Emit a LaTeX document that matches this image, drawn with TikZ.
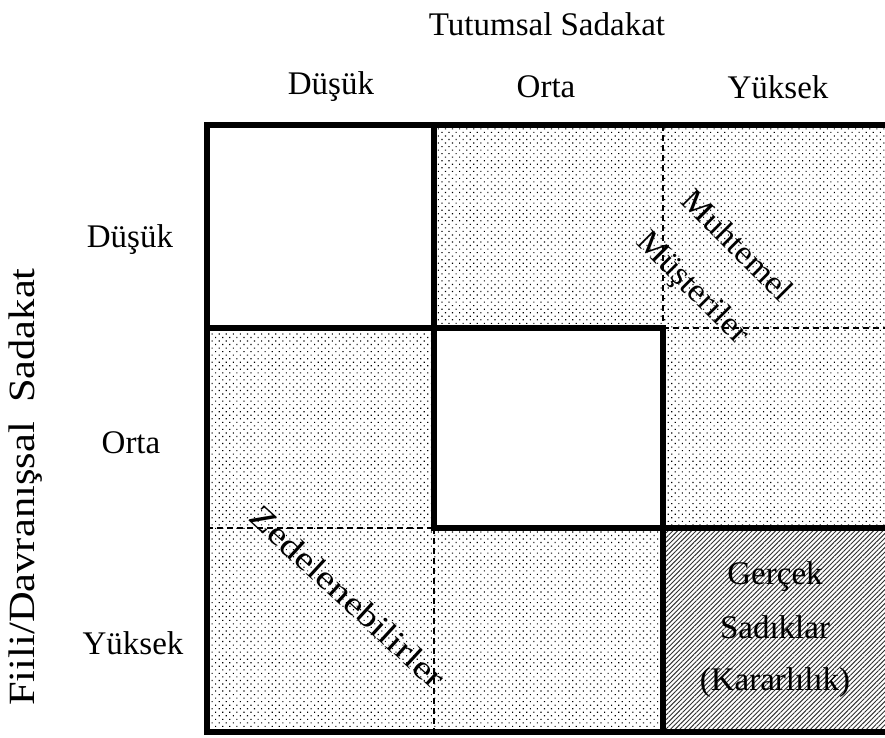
\documentclass[tikz,border=0pt]{standalone}
\usepackage{fontspec}
\setmainfont{Liberation Serif}
\usetikzlibrary{patterns.meta}

% grid lines (columns and rows of the loyalty matrix)
\def\XA{207}\def\XB{434}\def\XC{663}\def\XD{892}
\def\YA{125}\def\YB{328}\def\YC{528}\def\YD{732}

\tikzset{
  lbl/.style={inner sep=0pt, font=\fontsize{33}{40}\selectfont},
  dotfill/.style={pattern={Dots[radius=0.8pt, distance=5pt, angle=45]}, pattern color=black},
  hatchfill/.style={pattern={Lines[angle=45, distance=3.3pt, line width=0.9pt]}, pattern color=black!80},
  heavy/.style={line width=6pt, line cap=rect},
  split/.style={line width=1.3pt, dash pattern=on 6pt off 4pt},
}

\begin{document}
\begin{tikzpicture}[x=1pt, y=-1pt]
  \clip (0,0) rectangle (885,737);
  \fill[white] (0,0) rectangle (885,737);

  % shaded regions
  \fill[dotfill] (\XB,\YA) -- (\XD,\YA) -- (\XD,\YC) -- (\XC,\YC) -- (\XC,\YB) -- (\XB,\YB) -- cycle;
  \fill[dotfill] (\XA,\YB) -- (\XB,\YB) -- (\XB,\YC) -- (\XC,\YC) -- (\XC,\YD) -- (\XA,\YD) -- cycle;
  \fill[hatchfill] (\XC,\YC) rectangle (\XD,\YD);

  % dashed internal borders
  \draw[split] (\XC,\YA) -- (\XC,\YB);
  \draw[split] (\XC,\YB) -- (\XD,\YB);
  \draw[split] (\XA,\YC) -- (\XB,\YC);
  \draw[split] (\XB,\YC) -- (\XB,\YD);

  % heavy borders
  \draw[heavy] (\XA,\YA) rectangle (\XD,\YD);
  \draw[heavy] (\XB,\YA) -- (\XB,\YC);
  \draw[heavy] (\XA,\YB) -- (\XC,\YB);
  \draw[heavy] (\XC,\YB) -- (\XC,\YD);
  \draw[heavy] (\XB,\YC) -- (\XD,\YC);

  % axis titles
  \node[lbl] (ttitle) at (547,24) {Tutumsal Sadakat};
  \node[lbl, font=\fontsize{37}{44}\selectfont, rotate=90, anchor=east] (ftitle) at (26,268)
    {\scalebox{1.15}[1]{Fiili/Davranışsal\hspace{0.45em}Sadakat}};

  % column headings
  \node[lbl] (cLow) at (331,87) {Düşük};
  \node[lbl] (cMid) at (546,87) {Orta};
  \node[lbl] (cHigh) at (778,87) {Yüksek};

  % row headings
  \node[lbl] (rLow) at (130,240) {Düşük};
  \node[lbl] (rMid) at (131,443) {Orta};
  \node[lbl] (rHigh) at (133,643) {Yüksek};

  % segment names
  \node[lbl, rotate=-45] (muh) at (738,245) {\scalebox{1.05}[1]{Muhtemel}};
  \node[lbl, rotate=-45] (mus) at (692,289) {\scalebox{1.05}[1]{Müşteriler}};
  \node[lbl, rotate=-42.5] (zed) at (348,597) {\scalebox{1.2}[1]{Zedelenebilirler}};
  \node[lbl] (ger) at (775,577) {Gerçek};
  \node[lbl] (sad) at (775,627) {Sadıklar};
  \node[lbl] (kar) at (775,683) {(Kararlılık)};
\end{tikzpicture}
\end{document}
